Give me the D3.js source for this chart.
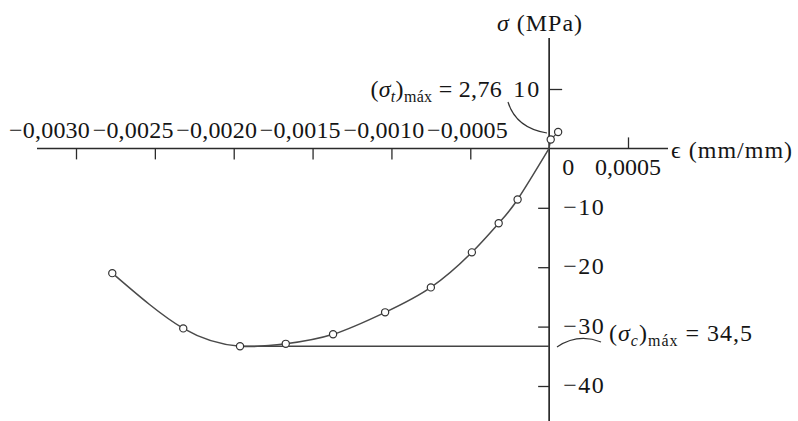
<!DOCTYPE html>
<html>
<head>
<meta charset="utf-8">
<script src="https://cdn.jsdelivr.net/npm/d3@7"></script>
<style>
  html, body { margin:0; padding:0; background:#fff; }
  svg text { font-family:"Liberation Serif", "DejaVu Serif", serif; fill:#151515; }
  .wide { letter-spacing:1px; }
</style>
</head>
<body>
<svg id="chart" width="798" height="421"></svg>
<script>
// strain (mm/mm) vs stress (MPa)
const strain  = [-0.00277, -0.00232, -0.00196, -0.00167, -0.00137, -0.00104, -0.00075, -0.00049, -0.00032, -0.00020, 0];
const stress  = [-21.0, -30.3, -33.3, -32.9, -31.3, -27.6, -23.4, -17.5, -12.6, -8.6, 0];
const tensionStrain = [0, 0.00001, 0.000057];
const tensionStress = [0, 1.5, 2.76];
const xTicksNeg = [-0.0030, -0.0025, -0.0020, -0.0015, -0.0010, -0.0005];
const xTicksPos = [0.0005];
const xTickLabels = ["−0,0030", "−0,0025", "−0,0020", "−0,0015", "−0,0010", "−0,0005"];
const yTicksPos = [10];
const yTicksNeg = [-10, -20, -30, -40];
const compMaxLine = -33.3;   // drawn level of (σc)máx
const tensMax = "2,76", compMax = "34,5";

const svg = d3.select("#chart");
const x = d3.scaleLinear().domain([-0.0030, 0.0005]).range([76, 628]);
const y = d3.scaleLinear().domain([-40, 10]).range([386, 89]);
// tick labels on the negative side are crowded together, right-aligned
const xLab = d3.scaleLinear().domain([-0.0030, -0.0005]).range([90, 508]);
const ink = "#2b2b2b";
const fs = 24, fsSub = 16;

// axes lines
svg.append("line").attr("x1", 37).attr("x2", 668).attr("y1", y(0)).attr("y2", y(0))
  .attr("stroke", ink).attr("stroke-width", 1.5);
svg.append("line").attr("x1", x(0)).attr("x2", x(0)).attr("y1", 38).attr("y2", 421)
  .attr("stroke", ink).attr("stroke-width", 1.7);

// tick marks through d3 axes (labels drawn separately)
function ticksOnly(axis, tx, ty){
  const g = svg.append("g").attr("transform", `translate(${tx},${ty})`).call(axis);
  g.select(".domain").remove();
  g.selectAll(".tick line").attr("stroke", ink).attr("stroke-width", 1.3);
  g.selectAll(".tick text").remove();
}
ticksOnly(d3.axisBottom(x).tickValues(xTicksNeg).tickSize(11), 0, y(0));
ticksOnly(d3.axisTop(x).tickValues(xTicksPos).tickSize(11), 0, y(0));
ticksOnly(d3.axisRight(y).tickValues(yTicksPos).tickSize(13), x(0), 0);
ticksOnly(d3.axisLeft(y).tickValues(yTicksNeg).tickSize(11), x(0), 0);

// x tick labels
svg.selectAll("text.xl").data(xTicksNeg).enter().append("text").attr("class", "xl")
  .attr("x", d => xLab(d)).attr("y", y(0) - 10).attr("text-anchor", "end")
  .attr("font-size", fs).attr("letter-spacing", 0.2).text((d, i) => xTickLabels[i]);
svg.append("text").attr("x", x(0) + 19).attr("y", y(0) + 27).attr("text-anchor", "middle")
  .attr("font-size", fs).text("0");
svg.selectAll("text.xp").data(xTicksPos).enter().append("text").attr("class", "xp")
  .attr("x", d => x(d)).attr("y", y(0) + 27).attr("text-anchor", "middle")
  .attr("font-size", fs).text("0,0005");

// y tick labels
svg.selectAll("text.yp").data(yTicksPos).enter().append("text").attr("class", "yp")
  .attr("x", x(0) - 8).attr("y", d => y(d) + 8).attr("text-anchor", "end")
  .attr("font-size", fs).attr("letter-spacing", 2).text(d => d);
svg.selectAll("text.yn").data(yTicksNeg).enter().append("text").attr("class", "yn")
  .attr("x", x(0) + 14).attr("y", d => y(d) + 7).attr("text-anchor", "start")
  .attr("font-size", fs).attr("letter-spacing", 1.5).text(d => "−" + Math.abs(d));

// axis titles
const yt = svg.append("text").attr("class", "wide").attr("x", 540).attr("y", 31)
  .attr("text-anchor", "middle").attr("font-size", fs);
yt.append("tspan").attr("font-style", "italic").text("σ");
yt.append("tspan").text(" (MPa)");
const xt = svg.append("text").attr("class", "wide").attr("x", 671).attr("y", 158).attr("font-size", fs);
xt.append("tspan").text("ϵ");
xt.append("tspan").text(" (mm/mm)");

// max compression level line
svg.append("line").attr("x1", x(strain[2])).attr("x2", x(0))
  .attr("y1", y(compMaxLine)).attr("y2", y(compMaxLine))
  .attr("stroke", "#444").attr("stroke-width", 1.4);

// curve
const pts = strain.map((s, i) => [s, stress[i]]);
const tpts = tensionStrain.map((s, i) => [s, tensionStress[i]]);
const line = d3.line().x(d => x(d[0])).y(d => y(d[1])).curve(d3.curveNatural);
svg.append("path").attr("d", line(pts)).attr("fill", "none")
  .attr("stroke", "#4a4a4a").attr("stroke-width", 1.5);
svg.append("path").attr("d", d3.line().x(d => x(d[0])).y(d => y(d[1]))(tpts)).attr("fill", "none")
  .attr("stroke", "#4a4a4a").attr("stroke-width", 1.2);

svg.selectAll("circle.pt").data(pts.slice(0, -1).concat(tpts.slice(1))).enter().append("circle")
  .attr("class", "pt").attr("cx", d => x(d[0])).attr("cy", d => y(d[1])).attr("r", 3.6)
  .attr("fill", "#fff").attr("stroke", "#333").attr("stroke-width", 1.2);

// annotations
function maxLabel(sel, sub, val){
  sel.append("tspan").text("(");
  sel.append("tspan").attr("font-style", "italic").text("σ");
  sel.append("tspan").attr("font-style", "italic").attr("font-size", fsSub).attr("dy", 5).text(sub);
  sel.append("tspan").attr("dy", -5).text(")");
  sel.append("tspan").attr("font-size", fsSub).attr("dy", 5).text("máx");
  sel.append("tspan").attr("dy", -5).text(" = " + val);
}
maxLabel(svg.append("text").attr("x", 502).attr("y", 97).attr("letter-spacing", 0.3)
  .attr("text-anchor", "end").attr("font-size", fs), "t", tensMax);
svg.append("path").attr("d", "M508,102 Q516,128 547,133").attr("fill", "none")
  .attr("stroke", "#333").attr("stroke-width", 1.2);

maxLabel(svg.append("text").attr("class", "wide").attr("x", 609).attr("y", 341)
  .attr("font-size", fs), "c", compMax);
svg.append("path").attr("d", "M557,347 Q578,333 601,342").attr("fill", "none")
  .attr("stroke", "#333").attr("stroke-width", 1.2);
</script>
</body>
</html>
